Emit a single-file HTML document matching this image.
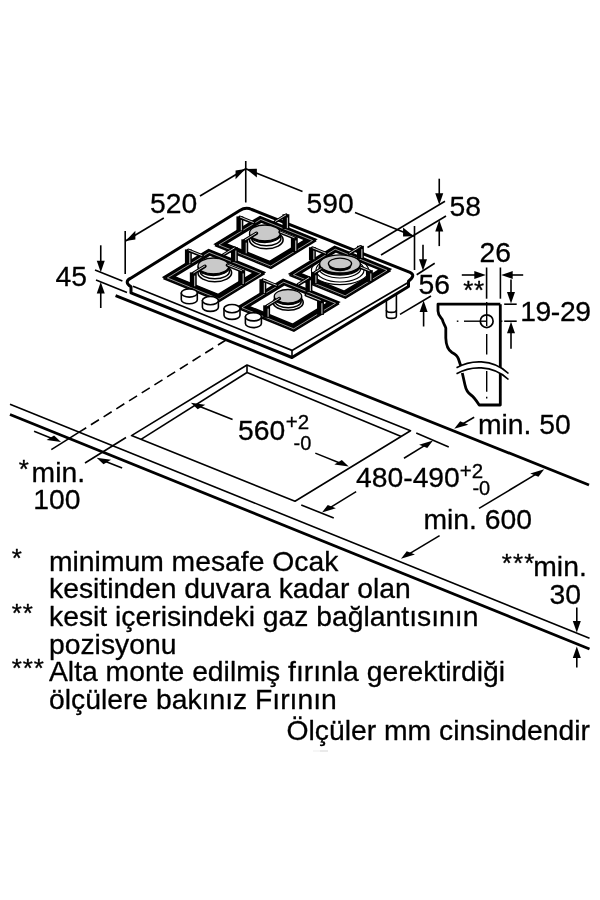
<!DOCTYPE html>
<html><head><meta charset="utf-8"><title>Hob dimensions</title>
<style>
html,body{margin:0;padding:0;background:#fff;}
svg{display:block;filter:grayscale(1);}
svg text{font-family:"Liberation Sans",sans-serif;fill:#000;stroke:#000;stroke-width:0.3px;}
</style></head><body>
<svg width="600" height="900" viewBox="0 0 600 900" stroke="#000" fill="none" stroke-linecap="butt" stroke-linejoin="round">
<rect x="0" y="0" width="600" height="900" fill="#fff" stroke="none"/>
<line x1="10.00" y1="404.25" x2="589.50" y2="638.20" stroke-width="1.6" />
<line x1="10.00" y1="414.50" x2="589.50" y2="649.00" stroke-width="2.8" />
<line x1="115.60" y1="295.60" x2="589.00" y2="485.00" stroke-width="2.8" />
<path d="M131.50 435.60 L247.00 365.00 L410.50 430.75 L295.00 501.25 Z" stroke-width="1.6" fill="none" />
<line x1="247.00" y1="365.00" x2="247.00" y2="372.50" stroke-width="1.6" />
<line x1="247.00" y1="372.50" x2="141.00" y2="439.40" stroke-width="1.6" />
<line x1="247.00" y1="372.50" x2="401.25" y2="436.40" stroke-width="1.6" />
<line x1="226.00" y1="340.00" x2="78.75" y2="432.40" stroke-width="1.6" stroke-dasharray="9.5 5.5"/>
<line x1="78.75" y1="432.40" x2="51.30" y2="449.60" stroke-width="1.6" />
<line x1="126.00" y1="437.50" x2="85.00" y2="463.00" stroke-width="1.6" />
<polygon points="61.00,442.00 54.08,435.44 46.57,440.02" fill="#000" stroke="none"/>
<line x1="34.07" y1="431.23" x2="52.64" y2="438.66" stroke-width="1.6" />
<polygon points="96.60,457.80 111.03,459.78 103.52,464.36" fill="#000" stroke="none"/>
<line x1="122.13" y1="468.01" x2="104.96" y2="461.14" stroke-width="1.6" />
<path d="M386.4 300 L386.4 316 A5 2.4 0 0 0 396.4 316 L396.4 294" stroke-width="1.6" fill="#fff" />
<path d="M386.4 310 A5 2.4 0 0 0 396.4 310" stroke-width="1.6" fill="none" />
<path d="M 131 286.8 L 131 292.9 L 292 357.5 L 408.5 286.5 L 408.5 281.2 Q 416.2 275.3 410 272.4 L 251.75 209.5 Q 245.75 206.7 239.75 210.5 L 130.3 278.4 Q 123.8 282.0 131 286.8 Z" stroke-width="3.0" fill="#fff" />
<path d="M 133 286.2 L 292 350.4 L 407.3 283" stroke-width="1.7" fill="none" />
<line x1="292.00" y1="350.00" x2="292.00" y2="357.50" stroke-width="1.6" />
<line x1="125.20" y1="231.00" x2="125.20" y2="274.00" stroke-width="1.6" />
<line x1="245.75" y1="161.00" x2="245.75" y2="202.50" stroke-width="1.6" />
<line x1="125.50" y1="241.00" x2="163.80" y2="218.00" stroke-width="1.6" />
<line x1="200.00" y1="196.00" x2="245.75" y2="168.75" stroke-width="1.6" />
<polygon points="125.50,241.00 135.36,239.48 135.36,230.68" fill="#000" stroke="none"/>
<polygon points="245.40,168.90 235.58,179.29 235.58,170.49" fill="#000" stroke="none"/>
<line x1="245.75" y1="168.75" x2="302.50" y2="191.45" stroke-width="1.6" />
<line x1="355.00" y1="212.50" x2="413.75" y2="236.25" stroke-width="1.6" />
<polygon points="246.20,168.90 256.88,177.57 256.88,168.77" fill="#000" stroke="none"/>
<polygon points="413.75,236.25 403.07,236.38 403.07,227.58" fill="#000" stroke="none"/>
<line x1="414.50" y1="226.00" x2="414.50" y2="270.00" stroke-width="1.6" />
<line x1="367.50" y1="247.50" x2="445.00" y2="201.25" stroke-width="1.6" />
<line x1="381.00" y1="255.00" x2="446.00" y2="216.00" stroke-width="1.6" />
<polygon points="439.25,204.70 435.25,193.20 443.25,193.20" fill="#000" stroke="none"/>
<line x1="439.25" y1="178.70" x2="439.25" y2="195.70" stroke-width="1.6" />
<polygon points="439.25,220.10 443.25,231.60 435.25,231.60" fill="#000" stroke="none"/>
<line x1="439.25" y1="246.10" x2="439.25" y2="229.10" stroke-width="1.6" />
<line x1="416.70" y1="274.70" x2="434.70" y2="263.30" stroke-width="1.6" />
<line x1="400.00" y1="314.40" x2="431.00" y2="296.00" stroke-width="1.6" />
<polygon points="423.00,270.80 419.00,259.30 427.00,259.30" fill="#000" stroke="none"/>
<line x1="423.00" y1="244.80" x2="423.00" y2="261.80" stroke-width="1.6" />
<polygon points="423.60,300.50 427.60,312.00 419.60,312.00" fill="#000" stroke="none"/>
<line x1="423.60" y1="326.50" x2="423.60" y2="309.50" stroke-width="1.6" />
<line x1="95.00" y1="270.00" x2="122.40" y2="281.00" stroke-width="1.6" />
<line x1="96.00" y1="280.00" x2="127.00" y2="292.40" stroke-width="1.6" />
<polygon points="100.75,272.30 96.75,260.80 104.75,260.80" fill="#000" stroke="none"/>
<line x1="100.75" y1="245.30" x2="100.75" y2="263.30" stroke-width="1.6" />
<polygon points="100.75,282.00 104.75,293.50 96.75,293.50" fill="#000" stroke="none"/>
<line x1="100.75" y1="308.00" x2="100.75" y2="291.00" stroke-width="1.6" />
<line x1="486.60" y1="267.50" x2="486.60" y2="298.70" stroke-width="1.6" />
<line x1="500.40" y1="267.50" x2="500.40" y2="298.70" stroke-width="1.6" />
<polygon points="485.80,275.00 474.30,279.00 474.30,271.00" fill="#000" stroke="none"/>
<line x1="461.80" y1="275.00" x2="476.80" y2="275.00" stroke-width="1.6" />
<polygon points="501.20,275.00 512.70,271.00 512.70,279.00" fill="#000" stroke="none"/>
<line x1="523.20" y1="275.00" x2="510.20" y2="275.00" stroke-width="1.6" />
<line x1="504.20" y1="304.20" x2="516.70" y2="304.20" stroke-width="1.6" />
<line x1="504.20" y1="321.20" x2="516.70" y2="321.20" stroke-width="1.6" />
<polygon points="511.00,303.60 507.00,292.10 515.00,292.10" fill="#000" stroke="none"/>
<line x1="511.00" y1="279.60" x2="511.00" y2="294.60" stroke-width="1.6" />
<polygon points="511.00,321.80 515.00,333.30 507.00,333.30" fill="#000" stroke="none"/>
<line x1="511.00" y1="348.80" x2="511.00" y2="330.80" stroke-width="1.6" />
<polygon points="454.25,428.75 468.30,424.64 460.13,421.37" fill="#000" stroke="none"/>
<line x1="474.17" y1="417.26" x2="462.05" y2="424.25" stroke-width="1.6" />
<polygon points="190.80,402.80 205.23,404.78 197.72,409.36" fill="#000" stroke="none"/>
<line x1="232.58" y1="419.51" x2="199.16" y2="406.14" stroke-width="1.6" />
<polygon points="348.75,466.50 341.83,459.94 334.32,464.52" fill="#000" stroke="none"/>
<line x1="315.32" y1="453.13" x2="340.39" y2="463.16" stroke-width="1.6" />
<line x1="416.25" y1="433.00" x2="448.75" y2="447.00" stroke-width="1.6" />
<line x1="301.25" y1="505.00" x2="333.75" y2="518.00" stroke-width="1.6" />
<polygon points="433.00,440.50 427.27,448.12 419.10,444.85" fill="#000" stroke="none"/>
<line x1="403.97" y1="458.21" x2="425.32" y2="445.19" stroke-width="1.6" />
<polygon points="322.00,512.50 335.90,508.15 327.73,504.88" fill="#000" stroke="none"/>
<line x1="356.15" y1="491.67" x2="329.68" y2="507.81" stroke-width="1.6" />
<polygon points="544.20,469.30 538.42,476.85 530.25,473.58" fill="#000" stroke="none"/>
<line x1="479.03" y1="508.40" x2="536.48" y2="473.93" stroke-width="1.6" />
<polygon points="401.00,558.80 414.95,554.52 406.78,551.25" fill="#000" stroke="none"/>
<line x1="439.59" y1="535.65" x2="408.72" y2="554.17" stroke-width="1.6" />
<polygon points="576.80,632.60 572.80,621.10 580.80,621.10" fill="#000" stroke="none"/>
<line x1="576.80" y1="607.60" x2="576.80" y2="623.60" stroke-width="1.6" />
<polygon points="576.80,646.50 580.80,658.00 572.80,658.00" fill="#000" stroke="none"/>
<line x1="576.80" y1="667.50" x2="576.80" y2="655.50" stroke-width="1.6" />
<path d="M500.3 304.2 L438 304.2 L438 311 C438 316 442 318 442.5 320 C443 323 445 325 445.8 328 L445.8 338 C446 345 448 350 452 352.5 C455 354 457.5 356 458.5 359 L460.8 366" stroke-width="2.8" fill="none" />
<path d="M462.3 373 L465 385 C466 390 468 393 471 395 C474 397 476 400 479.2 405 L500.3 405 L500.3 304.2" stroke-width="2.8" fill="none" />
<path d="M456.5 367.8 C470 360 492 358 508.5 373.5 L508.5 379.5 C492 364 470 366 456.5 373.8 Z" stroke-width="0" fill="#fff" />
<path d="M456.5 367.8 C470 360 492 358 508.5 373.5" stroke-width="1.6" fill="none" />
<path d="M456.5 373.8 C470 366 492 364 508.5 379.5" stroke-width="1.6" fill="none" />
<ellipse cx="486.70" cy="321.20" rx="6.40" ry="6.40" stroke-width="1.7" fill="#fff" />
<line x1="486.70" y1="302.00" x2="486.70" y2="326.00" stroke-width="1.4" />
<line x1="486.70" y1="334.00" x2="486.70" y2="354.50" stroke-width="1.4" />
<line x1="486.70" y1="371.00" x2="486.70" y2="391.70" stroke-width="1.4" />
<line x1="486.70" y1="396.80" x2="486.70" y2="398.40" stroke-width="1.4" />
<line x1="456.80" y1="321.20" x2="458.40" y2="321.20" stroke-width="1.4" />
<line x1="464.00" y1="321.20" x2="486.70" y2="321.20" stroke-width="1.4" />
<line x1="500.80" y1="321.20" x2="502.40" y2="321.20" stroke-width="1.4" />
<line x1="313" y1="751" x2="320" y2="751" stroke="#f0f0f0" stroke-width="1.2"/>
<line x1="320" y1="751" x2="328" y2="751" stroke="#dcdcdc" stroke-width="1.2"/>
<text x="150" y="212.5" font-size="28.3" text-anchor="start" >520</text>
<text x="306.5" y="212.5" font-size="28.3" text-anchor="start" >590</text>
<text x="449.5" y="215.5" font-size="28.3" text-anchor="start" >58</text>
<text x="55.5" y="285.6" font-size="28.3" text-anchor="start" >45</text>
<text x="418.5" y="294" font-size="28.3" text-anchor="start" >56</text>
<text x="479.5" y="261.5" font-size="28.3" text-anchor="start" >26</text>
<text x="463.2" y="299.3" font-size="26" text-anchor="start" letter-spacing="0.6">**</text>
<text x="520.2" y="321" font-size="28.3" text-anchor="start" letter-spacing="-0.4">19-29</text>
<text x="478" y="434" font-size="28.3" text-anchor="start" >min. 50</text>
<text x="238" y="439.5" font-size="28.3" text-anchor="start" >560</text>
<text x="285.8" y="429.3" font-size="20.5" text-anchor="start" >+2</text>
<text x="293.6" y="449.6" font-size="20" text-anchor="start" >-0</text>
<text x="356" y="487" font-size="28.3" text-anchor="start" >480-490</text>
<text x="459.7" y="477.5" font-size="20.5" text-anchor="start" >+2</text>
<text x="472.4" y="495" font-size="20" text-anchor="start" >-0</text>
<text x="423.5" y="529" font-size="28.3" text-anchor="start" >min. 600</text>
<text x="18.8" y="478" font-size="26" text-anchor="start" >*</text>
<text x="31.6" y="481.5" font-size="28.3" text-anchor="start" >min.</text>
<text x="33.2" y="508.8" font-size="28.3" text-anchor="start" >100</text>
<text x="501.8" y="572.4" font-size="26" text-anchor="start" letter-spacing="1.1">***</text>
<text x="533.3" y="576" font-size="28.3" text-anchor="start" >min.</text>
<text x="549.5" y="604" font-size="28.3" text-anchor="start" >30</text>
<text x="11.8" y="567.0" font-size="26" text-anchor="start" letter-spacing="0.9">*</text>
<text x="49" y="570.7" font-size="28.3" text-anchor="start" >minimum mesafe Ocak</text>
<text x="49" y="598.3" font-size="28.3" text-anchor="start" >kesitinden duvara kadar olan</text>
<text x="11.8" y="622.1999999999999" font-size="26" text-anchor="start" letter-spacing="0.9">**</text>
<text x="49" y="625.9" font-size="28.3" text-anchor="start" >kesit içerisindeki gaz bağlantısının</text>
<text x="49" y="653.5" font-size="28.3" text-anchor="start" >pozisyonu</text>
<text x="11.8" y="677.4" font-size="26" text-anchor="start" letter-spacing="0.9">***</text>
<text x="49" y="681.1" font-size="28.3" text-anchor="start" >Alta monte edilmiş fırınla gerektirdiği</text>
<text x="49" y="708.7" font-size="28.3" text-anchor="start" >ölçülere bakınız Fırının</text>
<text x="590" y="739.8" font-size="28.3" text-anchor="end" >Ölçüler mm cinsindendir</text>
<path d="M214.90 244.10 L260.10 216.50 L316.10 239.30 L270.90 266.90 Z M226.03 243.57 L261.29 222.04 L304.97 239.83 L269.71 261.36 Z" fill="#000" fill-rule="evenodd" stroke="#000" stroke-width="1.5" stroke-linejoin="miter"/>
<path d="M214.90 245.40 L270.90 268.20 L316.10 240.60" fill="none" stroke="#000" stroke-width="1.7" stroke-linejoin="miter"/>
<path d="M218.91 244.93 L260.72 219.40 L312.52 240.49" fill="none" stroke="#fff" stroke-width="0.6" stroke-linejoin="miter"/>
<path d="M218.91 244.93 L270.71 266.02 L312.52 240.49" fill="none" stroke="#fff" stroke-width="0.6" stroke-linejoin="miter"/>
<rect x="236.42" y="216.43" width="6.9" height="14.90" fill="#000" stroke="none"/>
<line x1="241.32" y1="219.73" x2="241.32" y2="230.33" stroke="#fff" stroke-width="0.85"/>
<line x1="240.02" y1="217.33" x2="253.74" y2="222.91" stroke="#000" stroke-width="3.4" stroke-linecap="round"/>
<line x1="240.02" y1="217.03" x2="253.74" y2="222.61" stroke="#fff" stroke-width="0.8"/>
<rect x="282.47" y="214.24" width="6.9" height="14.90" fill="#000" stroke="none"/>
<line x1="287.37" y1="217.54" x2="287.37" y2="228.14" stroke="#fff" stroke-width="0.85"/>
<line x1="286.07" y1="215.14" x2="274.99" y2="221.90" stroke="#000" stroke-width="3.4" stroke-linecap="round"/>
<line x1="286.07" y1="214.84" x2="274.99" y2="221.60" stroke="#fff" stroke-width="0.8"/>
<ellipse cx="266.30" cy="239.80" rx="16.8" ry="8.9" fill="#fff" stroke="#000" stroke-width="1.6"/>
<ellipse cx="266.30" cy="238.50" rx="14.6" ry="7.2" fill="#fff" stroke="#000" stroke-width="1.5"/>
<ellipse cx="264.90" cy="234.70" rx="15.4" ry="7.9" fill="#000" stroke="#000" stroke-width="1.3"/>
<ellipse cx="264.90" cy="232.90" rx="15.4" ry="7.9" fill="#c9c9c9" stroke="#000" stroke-width="1.3"/>
<rect x="290.88" y="237.14" width="6.9" height="14.90" fill="#000" stroke="none"/>
<line x1="295.78" y1="240.44" x2="295.78" y2="251.04" stroke="#fff" stroke-width="0.85"/>
<line x1="294.48" y1="238.04" x2="279.98" y2="232.24" stroke="#000" stroke-width="3.4" stroke-linecap="round"/>
<line x1="294.48" y1="237.74" x2="279.98" y2="231.94" stroke="#fff" stroke-width="0.8"/>
<rect x="241.33" y="239.36" width="6.9" height="14.90" fill="#000" stroke="none"/>
<line x1="246.23" y1="242.66" x2="246.23" y2="253.26" stroke="#fff" stroke-width="0.85"/>
<line x1="244.93" y1="240.26" x2="256.46" y2="233.22" stroke="#000" stroke-width="3.4" stroke-linecap="round"/>
<line x1="244.93" y1="239.96" x2="256.46" y2="232.92" stroke="#fff" stroke-width="0.8"/>
<path d="M163.40 277.10 L208.60 249.50 L264.60 272.30 L219.40 299.90 Z M174.53 276.57 L209.79 255.04 L253.47 272.83 L218.21 294.36 Z" fill="#000" fill-rule="evenodd" stroke="#000" stroke-width="1.5" stroke-linejoin="miter"/>
<path d="M163.40 278.40 L219.40 301.20 L264.60 273.60" fill="none" stroke="#000" stroke-width="1.7" stroke-linejoin="miter"/>
<path d="M167.41 277.93 L209.22 252.40 L261.02 273.49" fill="none" stroke="#fff" stroke-width="0.6" stroke-linejoin="miter"/>
<path d="M167.41 277.93 L219.21 299.02 L261.02 273.49" fill="none" stroke="#fff" stroke-width="0.6" stroke-linejoin="miter"/>
<rect x="184.92" y="249.43" width="6.9" height="14.90" fill="#000" stroke="none"/>
<line x1="189.82" y1="252.73" x2="189.82" y2="263.33" stroke="#fff" stroke-width="0.85"/>
<line x1="188.52" y1="250.33" x2="202.24" y2="255.91" stroke="#000" stroke-width="3.4" stroke-linecap="round"/>
<line x1="188.52" y1="250.03" x2="202.24" y2="255.61" stroke="#fff" stroke-width="0.8"/>
<rect x="230.97" y="247.24" width="6.9" height="14.90" fill="#000" stroke="none"/>
<line x1="235.87" y1="250.54" x2="235.87" y2="261.14" stroke="#fff" stroke-width="0.85"/>
<line x1="234.57" y1="248.14" x2="223.49" y2="254.90" stroke="#000" stroke-width="3.4" stroke-linecap="round"/>
<line x1="234.57" y1="247.84" x2="223.49" y2="254.60" stroke="#fff" stroke-width="0.8"/>
<ellipse cx="214.80" cy="272.80" rx="16.8" ry="8.9" fill="#fff" stroke="#000" stroke-width="1.6"/>
<ellipse cx="214.80" cy="271.50" rx="14.6" ry="7.2" fill="#fff" stroke="#000" stroke-width="1.5"/>
<ellipse cx="213.40" cy="267.70" rx="15.4" ry="7.9" fill="#000" stroke="#000" stroke-width="1.3"/>
<ellipse cx="213.40" cy="265.90" rx="15.4" ry="7.9" fill="#c9c9c9" stroke="#000" stroke-width="1.3"/>
<rect x="238.25" y="270.14" width="6.9" height="14.90" fill="#000" stroke="none"/>
<line x1="243.15" y1="273.44" x2="243.15" y2="284.04" stroke="#fff" stroke-width="0.85"/>
<line x1="241.85" y1="271.04" x2="227.35" y2="265.24" stroke="#000" stroke-width="3.4" stroke-linecap="round"/>
<line x1="241.85" y1="270.74" x2="227.35" y2="264.94" stroke="#fff" stroke-width="0.8"/>
<rect x="189.83" y="272.36" width="6.9" height="14.90" fill="#000" stroke="none"/>
<line x1="194.73" y1="275.66" x2="194.73" y2="286.26" stroke="#fff" stroke-width="0.85"/>
<line x1="193.43" y1="273.26" x2="204.96" y2="266.22" stroke="#000" stroke-width="3.4" stroke-linecap="round"/>
<line x1="193.43" y1="272.96" x2="204.96" y2="265.92" stroke="#fff" stroke-width="0.8"/>
<path d="M289.40 273.90 L334.60 246.30 L390.60 269.10 L345.40 296.70 Z M300.53 273.37 L335.79 251.84 L379.47 269.63 L344.21 291.16 Z" fill="#000" fill-rule="evenodd" stroke="#000" stroke-width="1.5" stroke-linejoin="miter"/>
<path d="M289.40 275.20 L345.40 298.00 L390.60 270.40" fill="none" stroke="#000" stroke-width="1.7" stroke-linejoin="miter"/>
<path d="M293.41 274.73 L335.22 249.20 L387.02 270.29" fill="none" stroke="#fff" stroke-width="0.6" stroke-linejoin="miter"/>
<path d="M293.41 274.73 L345.21 295.82 L387.02 270.29" fill="none" stroke="#fff" stroke-width="0.6" stroke-linejoin="miter"/>
<rect x="308.96" y="247.23" width="6.9" height="13.10" fill="#000" stroke="none"/>
<line x1="313.86" y1="250.53" x2="313.86" y2="259.33" stroke="#fff" stroke-width="0.85"/>
<line x1="312.56" y1="248.13" x2="326.00" y2="253.60" stroke="#000" stroke-width="3.4" stroke-linecap="round"/>
<line x1="312.56" y1="247.83" x2="326.00" y2="253.30" stroke="#fff" stroke-width="0.8"/>
<rect x="356.97" y="245.84" width="6.9" height="13.10" fill="#000" stroke="none"/>
<line x1="361.87" y1="249.14" x2="361.87" y2="257.94" stroke="#fff" stroke-width="0.85"/>
<line x1="360.57" y1="246.74" x2="349.49" y2="253.50" stroke="#000" stroke-width="3.4" stroke-linecap="round"/>
<line x1="360.57" y1="246.44" x2="349.49" y2="253.20" stroke="#fff" stroke-width="0.8"/>
<ellipse cx="340.00" cy="270.50" rx="28.6" ry="14.2" fill="none" stroke="#000" stroke-width="1.15"/>
<ellipse cx="340.00" cy="270.00" rx="24" ry="12" fill="#fff" stroke="#000" stroke-width="1.2"/>
<ellipse cx="340.00" cy="268.00" rx="21" ry="10" fill="#fff" stroke="#000" stroke-width="1.2"/>
<ellipse cx="340.00" cy="265.90" rx="20.4" ry="9.1" fill="#000" stroke="#000" stroke-width="1.3"/>
<ellipse cx="340.00" cy="263.90" rx="20.4" ry="9.1" fill="#c9c9c9" stroke="#000" stroke-width="1.3"/>
<ellipse cx="340.00" cy="265.90" rx="10.6" ry="4.6" fill="#000" stroke="#000" stroke-width="1.3"/>
<ellipse cx="340.00" cy="263.60" rx="11.6" ry="5.4" fill="#c9c9c9" stroke="#000" stroke-width="1.3"/>
<rect x="365.94" y="270.14" width="6.9" height="11.70" fill="#000" stroke="none"/>
<line x1="370.84" y1="273.44" x2="370.84" y2="280.84" stroke="#fff" stroke-width="0.85"/>
<line x1="369.54" y1="271.04" x2="360.54" y2="267.44" stroke="#000" stroke-width="3.4" stroke-linecap="round"/>
<line x1="369.54" y1="270.74" x2="360.54" y2="267.14" stroke="#fff" stroke-width="0.8"/>
<rect x="311.00" y="272.06" width="6.9" height="12.10" fill="#000" stroke="none"/>
<line x1="315.90" y1="275.36" x2="315.90" y2="283.16" stroke="#fff" stroke-width="0.85"/>
<line x1="314.60" y1="272.96" x2="321.38" y2="268.82" stroke="#000" stroke-width="3.4" stroke-linecap="round"/>
<line x1="314.60" y1="272.66" x2="321.38" y2="268.52" stroke="#fff" stroke-width="0.8"/>
<path d="M237.90 306.90 L283.10 279.30 L339.10 302.10 L293.90 329.70 Z M249.03 306.37 L284.29 284.84 L327.97 302.63 L292.71 324.16 Z" fill="#000" fill-rule="evenodd" stroke="#000" stroke-width="1.5" stroke-linejoin="miter"/>
<path d="M237.90 308.20 L293.90 331.00 L339.10 303.40" fill="none" stroke="#000" stroke-width="1.7" stroke-linejoin="miter"/>
<path d="M241.91 307.73 L283.72 282.20 L335.52 303.29" fill="none" stroke="#fff" stroke-width="0.6" stroke-linejoin="miter"/>
<path d="M241.91 307.73 L293.71 328.82 L335.52 303.29" fill="none" stroke="#fff" stroke-width="0.6" stroke-linejoin="miter"/>
<rect x="259.42" y="279.23" width="6.9" height="14.90" fill="#000" stroke="none"/>
<line x1="264.32" y1="282.53" x2="264.32" y2="293.13" stroke="#fff" stroke-width="0.85"/>
<line x1="263.02" y1="280.13" x2="276.74" y2="285.71" stroke="#000" stroke-width="3.4" stroke-linecap="round"/>
<line x1="263.02" y1="279.83" x2="276.74" y2="285.41" stroke="#fff" stroke-width="0.8"/>
<rect x="305.47" y="277.04" width="6.9" height="14.90" fill="#000" stroke="none"/>
<line x1="310.37" y1="280.34" x2="310.37" y2="290.94" stroke="#fff" stroke-width="0.85"/>
<line x1="309.07" y1="277.94" x2="297.99" y2="284.70" stroke="#000" stroke-width="3.4" stroke-linecap="round"/>
<line x1="309.07" y1="277.64" x2="297.99" y2="284.40" stroke="#fff" stroke-width="0.8"/>
<ellipse cx="288.20" cy="302.50" rx="15.0" ry="7.7" fill="#fff" stroke="#000" stroke-width="1.6"/>
<ellipse cx="288.20" cy="301.50" rx="13.0" ry="6.2" fill="#fff" stroke="#000" stroke-width="1.5"/>
<ellipse cx="288.00" cy="297.90" rx="13.7" ry="6.8" fill="#000" stroke="#000" stroke-width="1.3"/>
<ellipse cx="288.00" cy="296.30" rx="13.7" ry="6.8" fill="#c9c9c9" stroke="#000" stroke-width="1.3"/>
<rect x="317.04" y="299.94" width="6.9" height="14.90" fill="#000" stroke="none"/>
<line x1="321.94" y1="303.24" x2="321.94" y2="313.84" stroke="#fff" stroke-width="0.85"/>
<line x1="320.64" y1="300.84" x2="306.14" y2="295.04" stroke="#000" stroke-width="3.4" stroke-linecap="round"/>
<line x1="320.64" y1="300.54" x2="306.14" y2="294.74" stroke="#fff" stroke-width="0.8"/>
<rect x="263.20" y="305.35" width="6.9" height="12.40" fill="#000" stroke="none"/>
<line x1="268.10" y1="308.65" x2="268.10" y2="316.75" stroke="#fff" stroke-width="0.85"/>
<line x1="266.80" y1="306.25" x2="279.46" y2="298.52" stroke="#000" stroke-width="3.4" stroke-linecap="round"/>
<line x1="266.80" y1="305.95" x2="279.46" y2="298.22" stroke="#fff" stroke-width="0.8"/>
<path d="M181.30 293.00 L181.30 299.70 A8.0 4.1 0 0 0 197.30 299.70 L197.30 293.00 Z" fill="#fff" stroke="#000" stroke-width="1.6"/><ellipse cx="189.30" cy="293.00" rx="8.0" ry="4.1" fill="#fff" stroke="#000" stroke-width="1.6"/>
<path d="M202.40 300.60 L202.40 307.30 A8.0 4.1 0 0 0 218.40 307.30 L218.40 300.60 Z" fill="#fff" stroke="#000" stroke-width="1.6"/><ellipse cx="210.40" cy="300.60" rx="8.0" ry="4.1" fill="#fff" stroke="#000" stroke-width="1.6"/>
<path d="M224.00 308.60 L224.00 315.30 A8.0 4.1 0 0 0 240.00 315.30 L240.00 308.60 Z" fill="#fff" stroke="#000" stroke-width="1.6"/><ellipse cx="232.00" cy="308.60" rx="8.0" ry="4.1" fill="#fff" stroke="#000" stroke-width="1.6"/>
<path d="M245.40 316.80 L245.40 323.50 A8.0 4.1 0 0 0 261.40 323.50 L261.40 316.80 Z" fill="#fff" stroke="#000" stroke-width="1.6"/><ellipse cx="253.40" cy="316.80" rx="8.0" ry="4.1" fill="#fff" stroke="#000" stroke-width="1.6"/>
</svg>
</body></html>
